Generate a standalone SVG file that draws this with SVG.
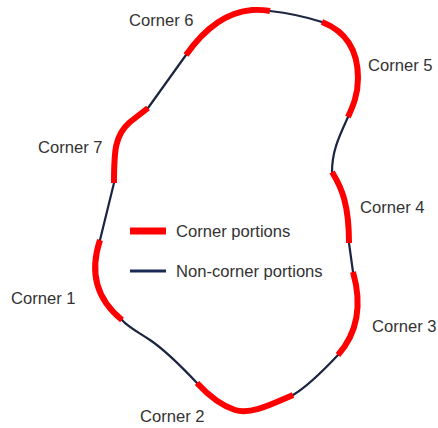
<svg xmlns="http://www.w3.org/2000/svg" width="438" height="428" viewBox="0 0 438 428">
  <style>
    .corner { fill: none; stroke: #ff0000; stroke-width: 6; stroke-linecap: butt; stroke-linejoin: round; }
    .plain { fill: none; stroke: #1b2440; stroke-width: 2.2; stroke-linecap: round; }
    .label { font-family: "Liberation Sans", Arial, sans-serif; font-size: 16.6px; fill: #333333; }
  </style>
  <rect width="438" height="428" fill="#ffffff"/>

  <!-- non-corner stretches of the outline -->
  <g id="connectors">
    <path class="plain" d="M270,11 Q297,14 322,22"/>
    <path class="plain" d="M348,117 C340,135 332,150 332,172"/>
    <path class="plain" d="M349,243 L353,272"/>
    <path class="plain" d="M338,355 C322,372 305,388 293,395"/>
    <path class="plain" d="M197,383 C180,365 165,350 150,340 C138,332 128,327 122,320"/>
    <path class="plain" d="M100,240 L114,183"/>
    <path class="plain" d="M148,108 L186,55"/>
  </g>

  <!-- corner stretches with their labels -->
  <g id="corner6">
    <path class="corner" d="M186,55 C205,28 228,12 252,10 Q262,9.5 270,11"/>
    <text class="label" x="129" y="26">Corner 6</text>
  </g>
  <g id="corner5">
    <path class="corner" d="M322,22 C350,33 358,55 358,78 C358,95 353,106 348,117"/>
    <text class="label" x="368" y="71">Corner 5</text>
  </g>
  <g id="corner4">
    <path class="corner" d="M332,172 C342,188 349,205 349,243"/>
    <text class="label" x="360" y="213">Corner 4</text>
  </g>
  <g id="corner3">
    <path class="corner" d="M353,272 C361,300 360,330 338,355"/>
    <text class="label" x="372" y="332">Corner 3</text>
  </g>
  <g id="corner2">
    <path class="corner" d="M293,395 C270,405 250,415 235,410 C220,405 208,395 197,383"/>
    <text class="label" x="140" y="422">Corner 2</text>
  </g>
  <g id="corner1">
    <path class="corner" d="M122,320 C95,298 90,270 100,240"/>
    <text class="label" x="11" y="304">Corner 1</text>
  </g>
  <g id="corner7">
    <path class="corner" d="M114,183 C114,150 115,135 130,122 L148,108"/>
    <text class="label" x="38" y="153">Corner 7</text>
  </g>

  <!-- legend -->
  <g id="legend">
    <line x1="130" y1="231" x2="166" y2="231" stroke="#ff0000" stroke-width="7"/>
    <text class="label" x="176" y="237">Corner portions</text>
    <line x1="130" y1="271" x2="166" y2="271" stroke="#1b2a55" stroke-width="3"/>
    <text class="label" x="176" y="277">Non-corner portions</text>
  </g>
</svg>
